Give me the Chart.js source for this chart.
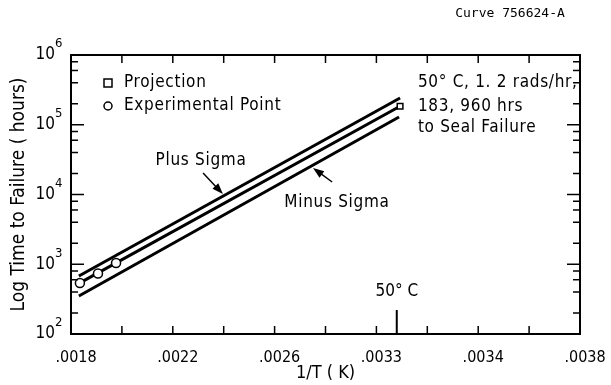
<!DOCTYPE html>
<html>
<head>
<meta charset="utf-8">
<script src="https://cdn.jsdelivr.net/npm/chart.js@4.4.1/dist/chart.umd.min.js"></script>
<style>
  html, body { margin: 0; padding: 0; background: #fff; }
  #wrap { position: relative; width: 611px; height: 385px; }
</style>
</head>
<body>
<div id="wrap"><canvas id="lifeChart" width="611" height="385"></canvas></div>
<script>
// Data (x = 1/T, y = hours)
const xTickLabels = ['.0018', '.0022', '.0026', '.0033', '.0034', '.0038'];
const yDecades = [100, 1000, 10000, 100000, 1000000];
const yExponents = ['2', '3', '4', '5', '6'];
const yMinorSteps = [2, 4, 6, 8];

const plusSigmaX = [0.001831, 0.003093];
const plusSigmaY = [678, 241800];
const meanX = [0.001835, 0.003093];
const meanY = [540, 183960];
const minusSigmaX = [0.001831, 0.003089];
const minusSigmaY = [351, 129000];
const experimentalX = [0.001835, 0.001906, 0.001977];
const experimentalY = [540, 735, 1040];
const projectionX = [0.003093];
const projectionY = [183960];

// Notes placed in data units
const plusArrow = { from: [0.002319, 20300], to: [0.002397, 10150] };
const minusArrow = { from: [0.002826, 15100], to: [0.002751, 24000] };
const plusLabel = { text: 'Plus Sigma', at: [0.002311, 30200] };
const minusLabel = { text: 'Minus Sigma', at: [0.002845, 7550] };
const failureNote = ['50\u00b0 C, 1. 2 rads/hr,', '183, 960 hrs', 'to Seal Failure'];
const failureNoteAt = [0.003163, [397000, 179500, 89800]];
const fiftyC = { text: '50\u00b0 C', x: 0.00308, tickTop: 221, labelY: 400 };

const pts = (xs, ys) => xs.map((x, i) => ({ x: x, y: ys[i] }));
const FONT = "'DejaVu Sans Condensed', 'DejaVu Sans', sans-serif";

Chart.defaults.font.family = FONT;
Chart.defaults.color = '#000';

const line = (ctx, x1, y1, x2, y2) => {
    ctx.beginPath();
    ctx.moveTo(x1, y1);
    ctx.lineTo(x2, y2);
    ctx.stroke();
};

const drawArrow = (ctx, x1, y1, x2, y2) => {
    const ang = Math.atan2(y2 - y1, x2 - x1);
    const len = 11, half = 4;
    ctx.lineWidth = 1.5;
    line(ctx, x1, y1, x2 - Math.cos(ang) * len * 0.8, y2 - Math.sin(ang) * len * 0.8);
    ctx.beginPath();
    ctx.moveTo(x2, y2);
    ctx.lineTo(x2 - Math.cos(ang) * len + Math.sin(ang) * half, y2 - Math.sin(ang) * len - Math.cos(ang) * half);
    ctx.lineTo(x2 - Math.cos(ang) * len - Math.sin(ang) * half, y2 - Math.sin(ang) * len + Math.cos(ang) * half);
    ctx.closePath();
    ctx.fill();
};

const paperPlugin = {
    id: 'paper',
    afterDraw(chart) {
        const { ctx, chartArea: a, scales: { x, y } } = chart;
        ctx.save();
        ctx.strokeStyle = '#000';
        ctx.fillStyle = '#000';

        // frame
        ctx.lineWidth = 2;
        ctx.strokeRect(a.left, a.top, a.right - a.left, a.bottom - a.top);

        // inward ticks on x (bottom and top)
        ctx.lineWidth = 1.5;
        x.ticks.forEach(t => {
            const px = x.getPixelForValue(t.value);
            if (px < a.left + 2 || px > a.right - 2) return;
            line(ctx, px, a.bottom, px, a.bottom - 8);
            line(ctx, px, a.top, px, a.top + 8);
        });

        // inward ticks on y (left and right)
        y.ticks.forEach(t => {
            const py = y.getPixelForValue(t.value);
            if (py < a.top + 2 || py > a.bottom - 2) return;
            const len = t.major ? 13 : 7;
            line(ctx, a.left, py, a.left + len, py);
            line(ctx, a.right, py, a.right - len, py);
        });

        // y labels 10^n
        yDecades.forEach((v, i) => {
            const py = y.getPixelForValue(v);
            ctx.font = '17px ' + FONT;
            ctx.textAlign = 'right';
            ctx.textBaseline = 'middle';
            ctx.fillText('10', a.left - 16, py);
            ctx.font = '13px ' + FONT;
            ctx.textAlign = 'left';
            ctx.fillText(yExponents[i], a.left - 16, py - 11);
        });

        // legend
        ctx.lineWidth = 1.5;
        ctx.strokeRect(a.left + 33, a.top + 24, 8, 8);
        ctx.beginPath();
        ctx.arc(a.left + 37, a.top + 51, 4, 0, Math.PI * 2);
        ctx.stroke();
        ctx.font = '17px ' + FONT;
        ctx.letterSpacing = '0.7px';
        ctx.textAlign = 'left';
        ctx.textBaseline = 'middle';
        ctx.fillText('Projection', a.left + 53, a.top + 28);
        ctx.fillText('Experimental Point', a.left + 53, a.top + 51);

        // sigma notes
        const px = p => [x.getPixelForValue(p[0]), y.getPixelForValue(p[1])];
        ctx.textAlign = 'center';
        let p = px(plusLabel.at);
        ctx.fillText(plusLabel.text, p[0], p[1]);
        p = px(minusLabel.at);
        ctx.fillText(minusLabel.text, p[0], p[1]);
        let f = px(plusArrow.from), t = px(plusArrow.to);
        drawArrow(ctx, f[0], f[1], t[0], t[1]);
        f = px(minusArrow.from); t = px(minusArrow.to);
        drawArrow(ctx, f[0], f[1], t[0], t[1]);

        // failure note
        ctx.textAlign = 'left';
        failureNote.forEach((s, i) => {
            ctx.fillText(s, x.getPixelForValue(failureNoteAt[0]), y.getPixelForValue(failureNoteAt[1][i]));
        });

        // 50 C marker
        const cx = x.getPixelForValue(fiftyC.x);
        ctx.lineWidth = 2;
        line(ctx, cx, a.bottom, cx, y.getPixelForValue(fiftyC.tickTop));
        ctx.letterSpacing = '0px';
        ctx.textAlign = 'center';
        ctx.fillText(fiftyC.text, cx, y.getPixelForValue(fiftyC.labelY));

        // curve id
        ctx.font = "13px 'DejaVu Sans Mono', monospace";
        ctx.fillText('Curve 756624-A', 510, 14);
        ctx.restore();
    }
};

const sigmaLine = (data) => ({
    data: data,
    showLine: true,
    borderColor: '#000',
    borderWidth: 3,
    pointRadius: 0,
    fill: false,
    order: 2
});

new Chart(document.getElementById('lifeChart'), {
    type: 'scatter',
    data: {
        datasets: [
            sigmaLine(pts(plusSigmaX, plusSigmaY)),
            sigmaLine(pts(meanX, meanY)),
            sigmaLine(pts(minusSigmaX, minusSigmaY)),
            {
                label: 'Experimental Point',
                data: pts(experimentalX, experimentalY),
                pointStyle: 'circle',
                pointRadius: 4.5,
                backgroundColor: '#fff',
                borderColor: '#000',
                borderWidth: 1.5,
                order: 1
            },
            {
                label: 'Projection',
                data: pts(projectionX, projectionY),
                pointStyle: 'rect',
                pointRadius: 4,
                backgroundColor: '#fff',
                borderColor: '#000',
                borderWidth: 1.5,
                order: 1
            }
        ]
    },
    options: {
        responsive: false,
        animation: false,
        layout: { padding: { top: 55, right: 31, left: 0, bottom: 0 } },
        plugins: { legend: { display: false }, tooltip: { enabled: false } },
        scales: {
            x: {
                type: 'linear',
                min: 0.0018,
                max: 0.0038,
                grid: { display: false },
                border: { display: false },
                afterFit: s => { s.height = 51; },
                ticks: {
                    stepSize: 0.0002,
                    autoSkip: false,
                    maxRotation: 0,
                    padding: 6,
                    labelOffset: 5,
                    font: { size: 16 },
                    callback: v => {
                        const k = Math.round((v - 0.0018) / 0.0002);
                        return k % 2 === 0 ? xTickLabels[k / 2] : '';
                    }
                },
                title: {
                    display: true,
                    text: '1/T ( K)',
                    font: { size: 18 },
                    padding: { top: 0, bottom: 1 }
                }
            },
            y: {
                type: 'logarithmic',
                min: 100,
                max: 1000000,
                grid: { display: false },
                border: { display: false },
                afterFit: s => { s.width = 71; },
                afterBuildTicks: s => {
                    const ticks = [];
                    yDecades.forEach(d => {
                        ticks.push({ value: d, major: true });
                        if (d < 1000000) yMinorSteps.forEach(m => ticks.push({ value: d * m, major: false }));
                    });
                    s.ticks = ticks;
                },
                ticks: { display: false },
                title: {
                    display: true,
                    text: 'Log Time to Failure ( hours)',
                    font: { size: 19 },
                    padding: { top: 8, bottom: 0 }
                }
            }
        }
    },
    plugins: [paperPlugin]
});
</script>
</body>
</html>
